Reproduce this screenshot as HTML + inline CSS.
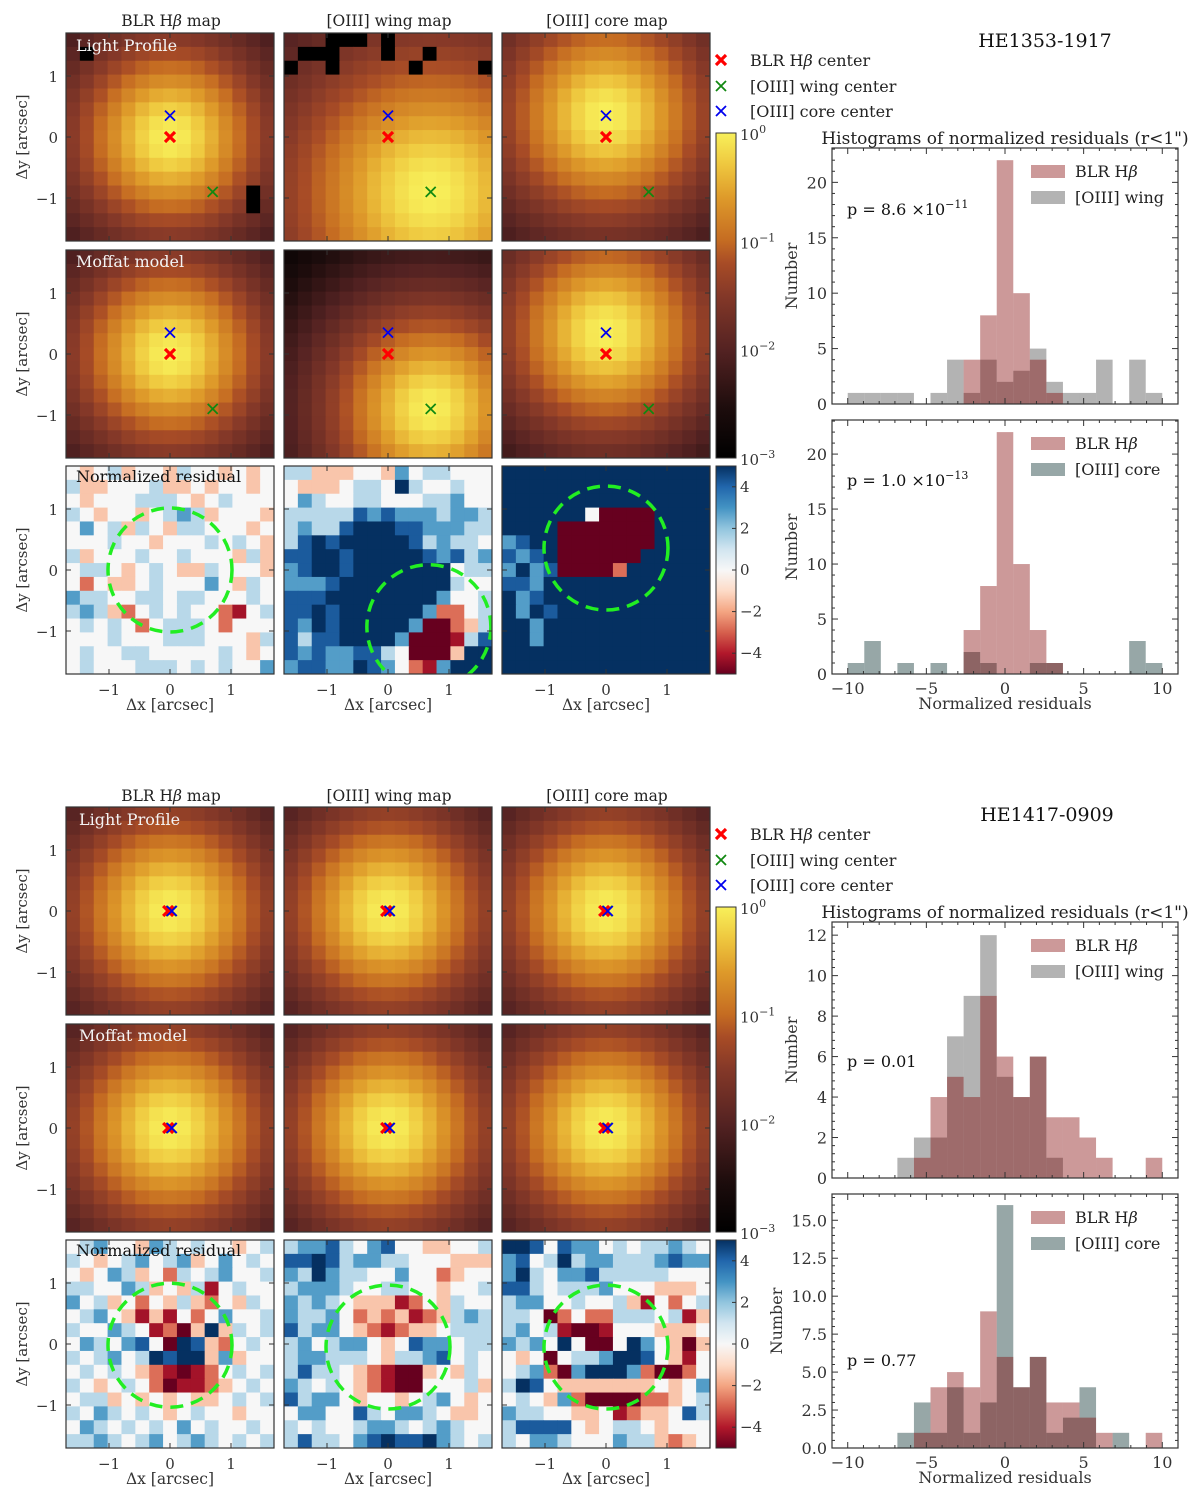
<!DOCTYPE html>
<html><head><meta charset="utf-8"><style>
html,body{margin:0;padding:0;background:#fff;}
svg{display:block;font-family:"DejaVu Serif","Liberation Serif",serif;}
</style></head><body>
<svg id="fig" width="1200" height="1496" viewBox="0 0 1200 1496" xmlns="http://www.w3.org/2000/svg"></svg>
<script>
// ---------------- DATA ----------------
const objectNames = ["HE1353-1917", "HE1417-0909"];
const mapTitles = ["BLR H\u03b2 map", "[OIII] wing map", "[OIII] core map"];
// Moffat parameters per panel: [cx, cy, alpha, beta] (arcsec)
const lightParamsTop = [[0, 0, 0.95, 2.5], [0.7, -0.9, 1.3, 2.2], [0, 0.35, 1.0, 2.4]];
const modelParamsTop = [[0, 0, 0.95, 2.5], [0.7, -0.9, 1.0, 2.5], [0, 0.35, 1.0, 2.5]];
const lightParamsBot = [[0, 0, 1.0, 2.5], [0, 0, 1.0, 2.5], [0, 0, 1.0, 2.5]];
const modelParamsBot = [[0, 0, 1.0, 2.5], [0, 0, 1.0, 2.5], [0, 0, 1.0, 2.5]];
// bad (black) pixels in light profiles: [panel, col, row]
const badPixelsTop = [[0,1,1],[0,13,11],[0,13,12],[1,3,0],[1,4,0],[1,5,0],[1,7,0],[1,1,1],[1,2,1],[1,3,1],[1,7,1],[1,10,1],[1,0,2],[1,3,2],[1,9,2],[1,14,2]];
// marker centres [x, y] arcsec
const centersTop = {blr:[0,0], wing:[0.7,-0.9], core:[0,0.35]};
const centersBot = {blr:[-0.03,0], wing:[0.02,0], core:[0.03,0]};
// residual circle centres
const circlesTop = [[0,0],[0.67,-0.93],[0,0.36]];
const circlesBot = [[0,-0.02],[0,-0.05],[0,-0.05]];
// residual grids, digit d -> value (d-4)*1.4
const resTop = [
["434534435443434","533444533434434","434445554345444","543443456534443","464535435544434","444544344454543","534445445444353","455434543354443","424334544464354","655445545544454","565324545442145","454542455542444","444544455544435","454455444445434","454445554545446"],
["553334436455444","433345548544544","465445544455644","555557676665665","565578887766655","578788888756554","778878888876756","678878888888455","666788888888544","777888888886445","778788888862245","768788888600235","757788886000157","767667754000388","677668764216888"],
["888888888888888","888888888888888","888888888888888","888888400008888","888800000008888","678800000008888","767800000088888","686700002888888","776888888888888","867888888888888","868788888888888","886888888888888","886888888888888","888888888888888","888888888888888"]];
const resBot = [
["456443654544345","543456456346454","434653425456445","554465343514544","645342435324354","456431314246445","544654120383545","465467408732454","545645878836344","454543210124545","543454201123454","455343434334545","546545434544344","465454546454454","556545645654545"],
["566754674433445","778756655444333","658655446442344","566654455443445","656543331243544","655642323123565","756643212334555","564566434766455","566555435567454","575543210034354","654543210044453","756643443456434","466447546654334","545445665456544","575546787786545"],
["887476645455654","674585665556766","685466755555444","775455564443334","566445445314245","554024225554513","564510014443334","656484004864303","434045568874314","456206888620024","587433333334346","454362000022345","655443341233475","577774345543444","546654446553234"]];
// histograms: 19 bins between -10 and 10
const binLo = -10, binHi = 10, nBins = 19;
const h1Blr  = [0,0,0,0,0,0,0,4,8,22,10,4,1,0,0,0,0,0,0];
const h1Wing = [1,1,1,1,0,1,4,1,4,2,3,5,2,1,1,4,0,4,1];
const h2Blr  = [0,0,0,0,0,0,0,4,8,22,10,4,1,0,0,0,0,0,0];
const h2Core = [1,3,0,1,0,1,0,2,1,0,0,1,1,0,0,0,0,3,1];
const h3Blr  = [0,0,0,0,1,4,5,4,9,6,4,6,3,3,2,1,0,0,1];
const h3Wing = [0,0,0,1,2,2,7,9,12,5,4,6,1,0,0,0,0,0,0];
const h4Blr  = [0,0,0,0,1,4,5,4,9,6,4,6,3,3,2,1,0,0,1];
const h4Core = [0,0,0,1,3,1,4,1,3,16,4,6,1,2,4,0,1,0,0];
const histYMax = [23.1, 23.1, 12.65, 16.73];
const histYTicks = [[0,5,10,15,20],[0,5,10,15,20],[0,2,4,6,8,10,12],[0,2.5,5,7.5,10,12.5,15]];
const histYLabels = [["0","5","10","15","20"],["0","5","10","15","20"],["0","2","4","6","8","10","12"],["0.0","2.5","5.0","7.5","10.0","12.5","15.0"]];
const histXTicks = [-10,-5,0,5,10];
const histXLabels = ["\u221210","\u22125","0","5","10"];
const pValues = [["8.6 \u00d710","\u221211"],["1.0 \u00d710","\u221213"],["0.01",""],["0.77",""]];
const cbTicks = [4,2,0,-2,-4];
const cbLabels = ["4","2","0","\u22122","\u22124"];

// ---------------- HELPERS ----------------
const NS = "http://www.w3.org/2000/svg";
const svg = document.getElementById('fig');
function mk(tag, attrs, parent, text){
  const e = document.createElementNS(NS, tag);
  for (const k in attrs) e.setAttribute(k, attrs[k]);
  if (text !== undefined) e.textContent = text;
  (parent || svg).appendChild(e);
  return e;
}
function hex(h){return [parseInt(h.slice(1,3),16),parseInt(h.slice(3,5),16),parseInt(h.slice(5,7),16)];}
function interp(stops, t){
  t = Math.max(0, Math.min(1, t));
  for (let i=1;i<stops.length;i++){
    if (t <= stops[i][0]){
      const a=stops[i-1], b=stops[i], f=(t-a[0])/(b[0]-a[0]);
      const ca=hex(a[1]), cb=hex(b[1]);
      return 'rgb('+ca.map((c,j)=>Math.round(c+(cb[j]-c)*f)).join(',')+')';
    }
  }
  return stops[stops.length-1][1];
}
const heatStops = [[0,'#000000'],[0.15,'#1c0c0c'],[0.33,'#532222'],[0.5,'#843828'],[0.6,'#a84c26'],[0.67,'#c56c22'],[0.8,'#de9a2a'],[0.9,'#eec63e'],[1,'#f8f05a']];
const rdbu = ['#67001f','#b2182b','#d6604d','#f4a582','#fddbc7','#f7f7f7','#d1e5f0','#92c5de','#4393c3','#2166ac','#053061'];
const rdbuStops = rdbu.map((c,i)=>[i/10,c]);
function heatColor(v){return interp(heatStops,(Math.log10(Math.max(v,1e-4))+3)/3);}
function resColor(v){return interp(rdbuStops,(v+5)/10);}

const colX = [66, 284, 502], PW = 208, NP = 15, PX = PW/NP, SCALE = 61;
const rowYTop = [33, 250, 466];
const OFF = 774;

function panelFrame(g, x0, y0){
  mk('rect',{x:x0,y:y0,width:PW,height:PW,fill:'none',stroke:'#333',"stroke-width":1.2},g);
  const cx = x0+PW/2, cy = y0+PW/2;
  [-1,0,1].forEach(v=>{
    mk('line',{x1:cx+v*SCALE,y1:y0+PW,x2:cx+v*SCALE,y2:y0+PW-5,stroke:'#333'},g);
    mk('line',{x1:cx+v*SCALE,y1:y0,x2:cx+v*SCALE,y2:y0+5,stroke:'#333'},g);
    mk('line',{x1:x0,y1:cy-v*SCALE,x2:x0+5,y2:cy-v*SCALE,stroke:'#333'},g);
    mk('line',{x1:x0+PW,y1:cy-v*SCALE,x2:x0+PW-5,y2:cy-v*SCALE,stroke:'#333'},g);
  });
}
function drawMoffat(g, x0, y0, p, bad, pi){
  for (let r=0;r<NP;r++) for (let c=0;c<NP;c++){
    const ax = (c-7)*PX/SCALE, ay = (7-r)*PX/SCALE;
    const rr = Math.hypot(ax-p[0], ay-p[1]);
    let v = Math.pow(1+(rr/p[2])*(rr/p[2]), -p[3]);
    if (bad && bad.some(b=>b[0]===pi&&b[1]===c&&b[2]===r)) v = 1e-4;
    const e = mk('rect',{x:(x0+c*PX).toFixed(2),y:(y0+r*PX).toFixed(2),width:(PX+0.5).toFixed(2),height:(PX+0.5).toFixed(2),fill:heatColor(v)},g);
    
    
  }
}
function drawResidual(g, x0, y0, grid){
  for (let r=0;r<NP;r++) for (let c=0;c<NP;c++){
    const v = (parseInt(grid[r][c])-4)*1.4;
    const e = mk('rect',{x:(x0+c*PX).toFixed(2),y:(y0+r*PX).toFixed(2),width:(PX+0.5).toFixed(2),height:(PX+0.5).toFixed(2),fill:resColor(v)},g);
    
    
  }
}
function cross(g, x, y, color, bold){
  const s = 5, w = bold?3.2:1.8;
  mk('path',{d:`M${x-s},${y-s}L${x+s},${y+s}M${x-s},${y+s}L${x+s},${y-s}`,stroke:color,"stroke-width":w,fill:'none'},g);
}
function drawMarkers(g, x0, y0, cen){
  const cx = x0+PW/2, cy = y0+PW/2;
  cross(g, cx+cen.wing[0]*SCALE, cy-cen.wing[1]*SCALE, '#118811', false);
  cross(g, cx+cen.blr[0]*SCALE, cy-cen.blr[1]*SCALE, '#ff0000', true);
  cross(g, cx+cen.core[0]*SCALE, cy-cen.core[1]*SCALE, '#0000ee', false);
}

function drawBlock(off, lightP, modelP, bad, cen, circ, res, name){
  const block = mk('g',{});
  const rows = rowYTop.map(y=>y+off);
  mapTitles.forEach((t,i)=>{
    const tt = mk('text',{x:colX[i]+PW/2+1,y:rows[0]-7+(name?1:0),"text-anchor":"middle","font-size":15.5,fill:'#222'},block);
    
    
    const parts = t.split('\u03b2');
    tt.appendChild(document.createTextNode(parts[0]));
    if (parts.length>1){ mk('tspan',{"font-style":"italic"},tt,'\u03b2'); tt.appendChild(document.createTextNode(parts[1])); }
  });
  for (let i=0;i<3;i++){
    const g1 = mk('g',{},block);
    drawMoffat(g1, colX[i], rows[0], lightP[i], bad, i);
    drawMarkers(g1, colX[i], rows[0], cen);
    panelFrame(g1, colX[i], rows[0]);
    const g2 = mk('g',{},block);
    drawMoffat(g2, colX[i], rows[1], modelP[i], null, i);
    drawMarkers(g2, colX[i], rows[1], cen);
    panelFrame(g2, colX[i], rows[1]);
    const g3 = mk('g',{},block);
    drawResidual(g3, colX[i], rows[2], res[i]);
    mk('circle',{cx:colX[i]+PW/2+circ[i][0]*SCALE,cy:rows[2]+PW/2-circ[i][1]*SCALE,r:62,fill:'none',stroke:'#22ee22',"stroke-width":3.5,"stroke-dasharray":"13,8","clip-path":`url(#clip${name}${i})`},g3);
    const cp = mk('clipPath',{id:`clip${name}${i}`},g3);
    mk('rect',{x:colX[i],y:rows[2],width:PW,height:PW},cp);
    panelFrame(g3, colX[i], rows[2]);
  }
  mk('text',{x:76+(name?3:0),y:rows[0]+18,"font-size":16,fill:'#f4f4f4',},block,'Light Profile');
  mk('text',{x:76+(name?3:0),y:rows[1]+17,"font-size":16,fill:'#f4f4f4',},block,'Moffat model');
  mk('text',{x:76,y:rows[2]+16,"font-size":16,fill:'#111',},block,'Normalized residual');
  rows.forEach(y0=>{
    const cy = y0+PW/2;
    [1,0,-1].forEach(v=>{
      mk('text',{x:58,y:cy-v*SCALE+6,"text-anchor":"end","font-size":15,fill:'#333',},block,v<0?'\u22121':String(v));
    });
    mk('text',{transform:`translate(27,${cy}) rotate(-90)`,"text-anchor":"middle","font-size":15,fill:'#333',},block,'\u0394y [arcsec]');
  });
  colX.forEach(x0=>{
    const cx = x0+PW/2;
    [-1,0,1].forEach(v=>{
      mk('text',{x:cx+v*SCALE,y:rows[2]+PW+21,"text-anchor":"middle","font-size":15,fill:'#333',},block,v<0?'\u22121':String(v));
    });
    mk('text',{x:cx,y:rows[2]+PW+36,"text-anchor":"middle","font-size":15.5,fill:'#333',},block,'\u0394x [arcsec]');
  });
  const cbx = 716, cbw = 20, cby0 = 133+off, cby1 = 458+off;
  const gradId = 'hg'+name;
  const lg = mk('linearGradient',{id:gradId,x1:0,y1:1,x2:0,y2:0},block);
  heatStops.forEach(s=>mk('stop',{offset:s[0],"stop-color":s[1]},lg));
  mk('rect',{x:cbx,y:cby0,width:cbw,height:cby1-cby0,fill:`url(#${gradId})`,stroke:'#333',},block);
  [0,-1,-2,-3].forEach((e,i)=>{
    const y = cby0 + (cby1-cby0)*i/3;
    const t = mk('text',{x:740,y:y+7,"font-size":15,fill:'#333',},block,'10');
    mk('tspan',{dy:-7,"font-size":11},t,e===0?'0':'\u2212'+(-e));
  });
  const rby0 = 466+off, rby1 = 674+off;
  const rg = mk('linearGradient',{id:'rg'+name,x1:0,y1:1,x2:0,y2:0},block);
  rdbuStops.forEach(s=>mk('stop',{offset:s[0],"stop-color":s[1]},rg));
  mk('rect',{x:cbx,y:rby0,width:cbw,height:rby1-rby0,fill:`url(#rg${name})`,stroke:'#333',},block);
  cbTicks.forEach((v,i)=>{
    const y = (rby0+rby1)/2 - v*(rby1-rby0)/10;
    mk('line',{x1:cbx+cbw,y1:y,x2:cbx+cbw-4,y2:y,stroke:'#333'},block);
    mk('text',{x:740,y:y+5,"font-size":15,fill:'#333',},block,cbLabels[i]);
  });
  const lgG = mk('g',{},block);
  cross(lgG, 721, 60+off, '#ff0000', true);
  cross(lgG, 721, 86+off, '#118811', false);
  cross(lgG, 721, 111+off, '#0000ee', false);
  const l1 = mk('text',{x:750,y:66+off,"font-size":16,fill:'#222',},lgG,'BLR H');
  mk('tspan',{"font-style":"italic"},l1,'\u03b2');
  l1.appendChild(document.createTextNode(' center'));
  mk('text',{x:750,y:92+off,"font-size":16,fill:'#222',},lgG,'[OIII] wing center');
  mk('text',{x:750,y:117+off,"font-size":16,fill:'#222',},lgG,'[OIII] core center');
  mk('text',{x:1045+(name?2:0),y:47+off,"text-anchor":"middle","font-size":19,fill:'#111',},block,objectNames[name]);
  mk('text',{x:1005,y:144+off,"text-anchor":"middle","font-size":17,fill:'#222',},block,'Histograms of normalized residuals (r<1")');
}

// ---------------- HISTOGRAMS ----------------
const HX0 = 832, HX1 = 1178, XMIN = -11, XMAX = 11;
function hx(v){return HX0 + (v-XMIN)/(XMAX-XMIN)*(HX1-HX0);}
function drawHist(idx, top, bottom, blr, other, otherLabel, otherColor, otherAlpha, showX){
  const g = mk('g',{});
  const ymax = histYMax[idx];
  const hy = v => bottom - v/ymax*(bottom-top);
  const bw = (binHi-binLo)/nBins;
  other.forEach((c,i)=>{ if(c>0){
    const e = mk('rect',{x:hx(binLo+i*bw),y:hy(c),width:hx(binLo+(i+1)*bw)-hx(binLo+i*bw),height:bottom-hy(c),fill:otherColor,"fill-opacity":otherAlpha},g);
    
    
  }});
  blr.forEach((c,i)=>{ if(c>0){
    const e = mk('rect',{x:hx(binLo+i*bw),y:hy(c),width:hx(binLo+(i+1)*bw)-hx(binLo+i*bw),height:bottom-hy(c),fill:'#800000',"fill-opacity":0.4},g);
    
    
  }});
  mk('rect',{x:HX0,y:top,width:HX1-HX0,height:bottom-top,fill:'none',stroke:'#333',"stroke-width":1.2},g);
  for (let v=-11; v<=11; v++){
    const major = v%5===0;
    const L = major?6:3;
    mk('line',{x1:hx(v),y1:bottom,x2:hx(v),y2:bottom-L,stroke:'#333'},g);
    mk('line',{x1:hx(v),y1:top,x2:hx(v),y2:top+L,stroke:'#333'},g);
  }
  if (showX){
    histXTicks.forEach((v,i)=>mk('text',{x:hx(v),y:bottom+20,"text-anchor":"middle","font-size":16,fill:'#333',},g,histXLabels[i]));
    mk('text',{x:1005,y:bottom+35,"text-anchor":"middle","font-size":16,fill:'#333',},g,'Normalized residuals');
  }
  const ticks = histYTicks[idx];
  const step = ticks[1]-ticks[0];
  for (let v=0; v<=ymax+1e-6; v+=step/5){
    const major = Math.abs(v/step - Math.round(v/step))<1e-6;
    const L = major?6:3;
    mk('line',{x1:HX0,y1:hy(v),x2:HX0+L,y2:hy(v),stroke:'#333'},g);
    mk('line',{x1:HX1,y1:hy(v),x2:HX1-L,y2:hy(v),stroke:'#333'},g);
  }
  ticks.forEach((v,i)=>mk('text',{x:HX0-5,y:hy(v)+6,"text-anchor":"end","font-size":16,fill:'#333',},g,histYLabels[idx][i]));
  const nx = idx===3?782:797;
  mk('text',{transform:`translate(${nx},${(top+bottom)/2}) rotate(-90)`,"text-anchor":"middle","font-size":16,fill:'#333',},g,'Number');
  const lgx = 1031, lgy = top+17;
  mk('rect',{x:lgx,y:lgy,width:34,height:13,fill:'#800000',"fill-opacity":0.4,},g);
  mk('rect',{x:lgx,y:lgy+26,width:34,height:13,fill:otherColor,"fill-opacity":otherAlpha,},g);
  const t1 = mk('text',{x:1075,y:lgy+12,"font-size":16,fill:'#222',},g,'BLR H');
  mk('tspan',{"font-style":"italic"},t1,'\u03b2');
  mk('text',{x:1075,y:lgy+38,"font-size":16,fill:'#222',},g,otherLabel);
  const pyOff = [67,66,145,172][idx];
  const pt = mk('text',{x:847,y:top+pyOff,"font-size":16,fill:'#111',},g,'p = '+pValues[idx][0]);
  if (pValues[idx][1]) mk('tspan',{dy:-7,"font-size":11},pt,pValues[idx][1]);
}

drawBlock(0, lightParamsTop, modelParamsTop, badPixelsTop, centersTop, circlesTop, resTop, 0);
drawBlock(OFF, lightParamsBot, modelParamsBot, null, centersBot, circlesBot, resBot, 1);
drawHist(0, 148, 404, h1Blr, h1Wing, '[OIII] wing', '#808080', 0.6, false);
drawHist(1, 420, 674, h2Blr, h2Core, '[OIII] core', '#2f4f4f', 0.5, true);
drawHist(2, 922, 1178, h3Blr, h3Wing, '[OIII] wing', '#808080', 0.6, false);
drawHist(3, 1194, 1448, h4Blr, h4Core, '[OIII] core', '#2f4f4f', 0.5, true);
</script>
</body></html>
